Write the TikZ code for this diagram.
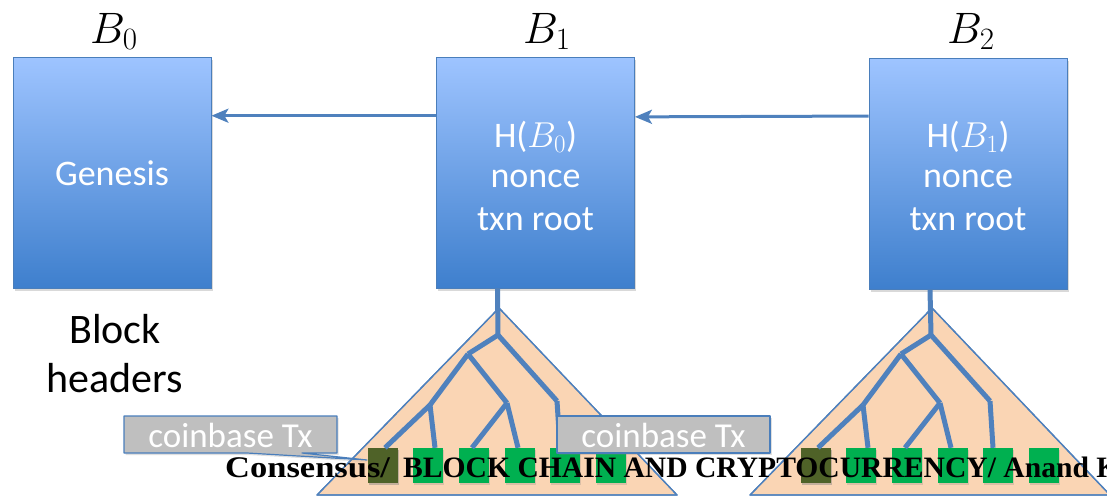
\RequirePackage{fix-cm}
\documentclass[tikz,border=0pt]{standalone}
\usepackage{fontspec}
\setmainfont{Carlito}
\newfontfamily\footserif{Liberation Serif}
\usetikzlibrary{arrows.meta,shadows,calc}
% block symbol with a large subscript: \blk{index}{subscript size}
\newcommand{\blk}[2]{$B_{\mbox{\fontsize{#2}{#2}\selectfont$#1$}}$}

\definecolor{boxtop}{RGB}{158,196,255}
\definecolor{boxbottom}{RGB}{62,127,205}
\definecolor{edgeblue}{RGB}{74,126,187}
\definecolor{treeblue}{RGB}{79,129,189}
\definecolor{peach}{RGB}{250,213,180}
\definecolor{leafgreen}{RGB}{0,176,80}
\definecolor{leafolive}{RGB}{79,98,40}
\definecolor{cbgray}{RGB}{191,191,191}

\begin{document}
\begin{tikzpicture}[x=1pt,y=-1pt,
  block/.style={draw=edgeblue,line width=0.8pt,top color=boxtop,bottom color=boxbottom,
    minimum width=198pt,minimum height=231pt,inner sep=0pt,
    drop shadow={shadow xshift=1.5pt,shadow yshift=-2.5pt,opacity=.3}},
  intext/.style={text=white,font=\fontsize{36}{42}\selectfont,inner sep=0pt,anchor=base},
  title/.style={font=\fontsize{44}{44}\selectfont,inner sep=0pt,anchor=base west},
  caption/.style={font=\fontsize{42}{49}\selectfont,inner sep=0pt,anchor=base},
  link/.style={draw=treeblue,line width=3pt,-{Stealth[length=17pt,width=14pt,inset=4pt]}},
  hull/.style={fill=peach,draw=treeblue,line width=1.3pt,line join=round},
  branch/.style={draw=treeblue,line width=5pt},
  leaf/.style={fill=leafgreen,minimum width=30pt,minimum height=35pt,inner sep=0pt,
    drop shadow={shadow xshift=1pt,shadow yshift=-1.5pt,opacity=.25}},
  callout/.style={fill=cbgray,draw=edgeblue,line width=1.2pt,line join=round,
    drop shadow={shadow xshift=1.5pt,shadow yshift=-2pt,opacity=.25}},
  cbtext/.style={text=white,font=\fontsize{35}{35}\selectfont,inner sep=0pt,anchor=base},
  footer/.style={font=\footserif\bfseries\fontsize{30}{30}\selectfont,inner sep=0pt,anchor=base west}
]
\useasboundingbox (0,0) rectangle (1107,498);
\clip (0,0) rectangle (1107,498);

% Merkle trees of transactions, one under each block
\foreach \t/\dx in {1/0,2/433}{
  \begin{scope}[xshift=\dx pt]
    \coordinate (t\t-apex) at (499,308);
    \coordinate (t\t-bl) at (317,495);
    \coordinate (t\t-br) at (677,495);
    \fill[hull] (t\t-apex) -- (t\t-br) -- (t\t-bl) -- cycle;
    \draw[hull,fill=none] (t\t-apex) -- (t\t-br) -- (t\t-bl) -- cycle;
    \foreach \k/\x in {1/383,2/428,3/474,4/520,5/565,6/611}
      \node[leaf] (t\t-l\k) at (\x,465.5) {};
    \node[leaf,fill=leafolive] at (t\t-l1) {};
    \coordinate (t\t-root) at (498,335);
    \coordinate (t\t-a) at (468,354);
    \coordinate (t\t-d) at (430,405);
    \coordinate (t\t-e) at (507,403);
    \coordinate (t\t-c) at (557,401);
    \draw[branch] (t\t-root) -- (t\t-a);
    \draw[branch] (t\t-root) -- (t\t-c);
    \draw[branch] (t\t-a) -- (t\t-d);
    \draw[branch] (t\t-a) -- (t\t-e);
    \draw[branch] (t\t-d) -- ([xshift=2pt]t\t-l1.north);
    \draw[branch] (t\t-d) -- ([xshift=7pt]t\t-l2.north);
    \draw[branch] (t\t-e) -- ([xshift=-2pt]t\t-l3.north);
    \draw[branch] (t\t-e) -- ([xshift=-2pt]t\t-l4.north);
    \draw[branch] (t\t-c) -- ([xshift=-5pt]t\t-l5.north);
  \end{scope}
}

% block headers
\node[block] (b0) at (112,172.5) {};
\node[block] (b1) at (535.5,172.5) {};
\node[block] (b2) at (968,174) {};

\node[intext] (g0) at (112,185) {Genesis};
\node[intext] (h1) at (535.5,147) {H(\blk{0}{25})};
\node[intext] (n1) at (535.5,187) {nonce};
\node[intext] (r1) at (535.5,230) {txn root};
\node[intext] (h2) at (968,147) {H(\blk{1}{25})};
\node[intext] (n2) at (968,187) {nonce};
\node[intext] (r2) at (968,230) {txn root};

\node[title] (lb0) at (90,43) {\blk{0}{31}};
\node[title] (lb1) at (523,43) {\blk{1}{31}};
\node[title] (lb2) at (947,43) {\blk{2}{31}};

\node[caption] (cap1) at (115,343) {Block};
\node[caption] (cap2) at (115,392) {headers};

% stems from each header down to its tree root
\draw[branch] ([xshift=-38pt]b1.south) -- (t1-root);
\draw[branch] ([xshift=-38pt]b2.south) -- (t2-root);

% hash pointers
\draw[link] ($(b1.north west)!.255!(b1.south west)$) -- ($(b0.north east)!.255!(b0.south east)$);
\draw[link] ($(b2.north west)!.25!(b2.south west)$) -- ($(b1.north east)!.26!(b1.south east)$);

% coinbase transaction callouts
\coordinate (cb1tip) at (367,460);
\draw[callout] (124,416) -- (337,416) -- (337,453) -- (302,453) -- (cb1tip) -- (247,453) -- (124,453) -- cycle;
\node[cbtext] (cb1) at (230.5,447) {coinbase Tx};
\draw[callout] (557,416) rectangle (770,453);
\node[cbtext] (cb2) at (663.5,447) {coinbase Tx};

% footer line
\node[footer] (ft1) at (225,477) {\scalebox{1.15}[1]{Consensus/}};
\node[footer,font=\footserif\bfseries\fontsize{29.6}{30}\selectfont] (ft2) at (403,477) {BLOCK CHAIN AND CRYPTOCURRENCY/ Anand K};
\end{tikzpicture}
\end{document}
